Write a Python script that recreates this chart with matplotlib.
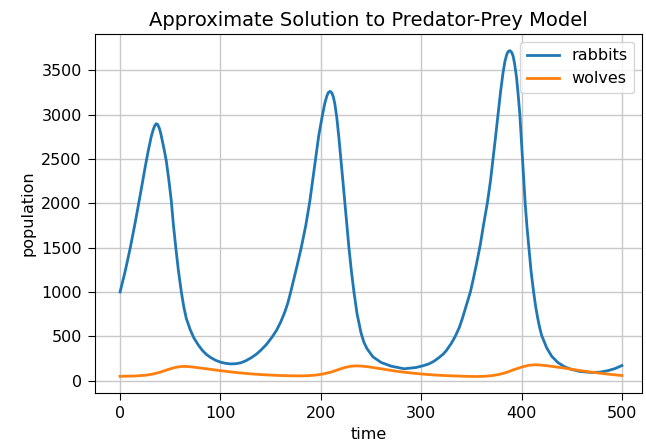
import matplotlib
matplotlib.use("Agg")
import matplotlib.pyplot as plt

# values
t_rabbits = [0, 5, 10, 15, 20, 25, 28, 31, 33, 34.5, 36, 37.5, 39, 40.5, 42, 44,
             46, 48.5, 51, 53, 55.5, 58, 61, 63.5, 66, 70, 73.6, 78, 82, 86, 90,
             95, 100, 105, 110, 115, 120, 125, 131, 136, 140, 146, 152, 156, 160,
             164, 167, 170, 173, 176, 180.5, 185, 189, 192, 195, 198, 201.7, 204,
             206, 207.5, 209.2, 211, 212.5, 214, 216, 218, 220, 222, 224, 226, 228,
             230.5, 233, 236, 240, 243, 246, 252, 260, 270, 283, 295, 302, 308, 313,
             318, 322, 325, 330, 334, 338, 341, 345, 349, 352, 355, 359, 362, 366,
             369, 371.6, 374, 376.6, 379, 381.5, 383.5, 385.5, 387, 388.5, 390,
             391.5, 393, 395, 396.5, 398.3, 401, 403.6, 405.5, 407.3, 409.5, 412,
             414, 416, 418, 420, 425, 430, 436, 443, 450, 458, 469, 478, 486, 493,
             500]
rabbits = [1000, 1230, 1490, 1780, 2090, 2410, 2590, 2750, 2830, 2875, 2898, 2888,
           2850, 2790, 2710, 2600, 2480, 2270, 2030, 1770, 1500, 1250, 1000, 830,
           700, 570, 480, 400, 340, 295, 262, 230, 208, 195, 188, 190, 200, 222,
           260, 300, 340, 410, 500, 570, 660, 770, 870, 1000, 1140, 1280, 1500,
           1750, 2020, 2270, 2520, 2770, 3000, 3130, 3210, 3250, 3263, 3245, 3200,
           3120, 2960, 2740, 2500, 2250, 2000, 1750, 1500, 1230, 1000, 760, 540,
           430, 360, 267, 205, 163, 133, 148, 168, 190, 220, 262, 300, 338, 420,
           500, 600, 700, 850, 1000, 1150, 1310, 1540, 1750, 2010, 2250, 2500,
           2740, 3000, 3250, 3470, 3605, 3688, 3716, 3722, 3705, 3665, 3580, 3420,
           3240, 3000, 2500, 2000, 1720, 1500, 1230, 1000, 840, 710, 600, 510, 370,
           275, 205, 155, 125, 103, 92, 95, 112, 135, 170]

t_wolves = [0, 15, 25, 32, 40, 47, 54, 60, 65, 70, 76, 84, 92, 100, 110, 120, 130,
            140, 150, 160, 170, 180, 188, 195, 202, 210, 217, 224, 230, 235, 240,
            247, 255, 265, 275, 285, 295, 305, 315, 325, 335, 345, 355, 362, 370,
            377, 385, 392, 400, 407, 413, 418, 425, 433, 442, 452, 462, 472, 482,
            492, 500]
wolves = [48, 52, 60, 72, 95, 122, 146, 158, 160, 156, 148, 136, 124, 112, 98, 86,
          76, 68, 62, 57, 54, 53, 56, 62, 74, 95, 122, 148, 162, 166, 164, 156,
          142, 124, 106, 92, 80, 70, 62, 56, 52, 48, 46, 48, 55, 68, 92, 122, 152,
          172, 178, 176, 168, 156, 142, 124, 107, 92, 78, 66, 57]

fig = plt.figure(figsize=(6.46, 4.45), dpi=100)
ax = fig.add_axes([95 / 646, 1 - 393 / 445, 547 / 646, 359 / 445])

ax.plot(t_rabbits, rabbits, color='#1f77b4', linewidth=2.0, label='rabbits')
ax.plot(t_wolves, wolves, color='#ff7f0e', linewidth=2.0, label='wolves')

ax.set_xlim(-25, 520)
ax.set_ylim(-140, 3910)
ax.set_xticks([0, 100, 200, 300, 400, 500])
ax.set_yticks(range(0, 3501, 500))
ax.grid(True, color='#c8c8c8', linewidth=1)
ax.tick_params(labelsize=11.5, length=5, pad=4.5)

ax.set_title('Approximate Solution to Predator-Prey Model', fontsize=14)
ax.set_xlabel('time', fontsize=11.5)
ax.set_ylabel('population', fontsize=11.5)
ax.legend(loc='upper right', fontsize=11.5)

fig.savefig('out.png', dpi=100)
